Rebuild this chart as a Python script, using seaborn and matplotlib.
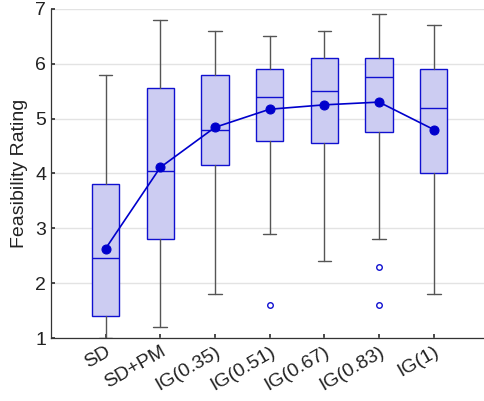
import matplotlib
matplotlib.use("Agg")
import matplotlib.pyplot as plt
import seaborn as sns
import pandas as pd

# box summary values
conditions = ["SD", "SD+PM", "IG(0.35)", "IG(0.51)", "IG(0.67)", "IG(0.83)", "IG(1)"]
whisker_low = [1.0, 1.2, 1.8, 2.9, 2.4, 2.8, 1.8]
q1 = [1.4, 2.8, 4.15, 4.6, 4.55, 4.75, 4.0]
median = [2.45, 4.05, 4.8, 5.4, 5.5, 5.75, 5.2]
q3 = [3.8, 5.55, 5.8, 5.9, 6.1, 6.1, 5.9]
whisker_high = [5.8, 6.8, 6.6, 6.5, 6.6, 6.9, 6.7]
outliers = [[], [], [], [1.6], [], [2.3, 1.6], []]
mean_rating = [2.63, 4.11, 4.84, 5.17, 5.25, 5.3, 4.8]

sns.set_theme(style="whitegrid")
plt.rcParams["font.family"] = ["Liberation Sans", "DejaVu Sans"]

fig = plt.figure(figsize=(4.85, 4.01), dpi=100)
ax = fig.add_axes([0.105, 0.157, 0.902, 0.821])

stats = []
for i, name in enumerate(conditions):
    stats.append({
        "label": name,
        "whislo": whisker_low[i],
        "q1": q1[i],
        "med": median[i],
        "q3": q3[i],
        "whishi": whisker_high[i],
        "fliers": outliers[i],
    })

blue = "#1010d0"
ax.bxp(
    stats,
    positions=range(len(conditions)),
    widths=0.5,
    patch_artist=True,
    showfliers=True,
    boxprops=dict(facecolor="#ccccf2", edgecolor=blue, linewidth=1.0),
    medianprops=dict(color=blue, linewidth=1.0),
    whiskerprops=dict(color="#555555", linewidth=1.0),
    capprops=dict(color="#555555", linewidth=1.0),
    capwidths=0.25,
    flierprops=dict(marker="o", markerfacecolor="none", markeredgecolor=blue,
                    markersize=4, markeredgewidth=1.0),
    zorder=2,
)

means = pd.DataFrame({"pos": range(len(conditions)), "mean": mean_rating})
sns.lineplot(data=means, x="pos", y="mean", ax=ax, color="#0000cc",
             marker="o", markersize=6.5, markeredgecolor="#0000cc",
             linewidth=1.2, zorder=4)

ax.set_xlim(-1, 7)
ax.set_ylim(1, 7)
ax.set_yticks(range(1, 8))
ax.set_xticks(range(len(conditions)))
ax.set_xticklabels(conditions, rotation=30, ha="right", rotation_mode="anchor")
ax.set_xlabel("")
ax.set_ylabel("Feasibility Rating", fontsize=14, color="#222222", labelpad=5)

ax.grid(axis="x", visible=False)
ax.grid(axis="y", color="#e3e3e3", linewidth=1.0)
ax.set_axisbelow(True)
for s in ["top", "right"]:
    ax.spines[s].set_visible(False)
for s in ["left", "bottom"]:
    ax.spines[s].set_color("#333333")
    ax.spines[s].set_linewidth(0.9)
ax.tick_params(axis="both", direction="in", length=3, color="#333333",
               labelsize=14, labelcolor="#222222", left=True, bottom=True)
ax.set_facecolor("white")

fig.savefig("out.png", dpi=100)
